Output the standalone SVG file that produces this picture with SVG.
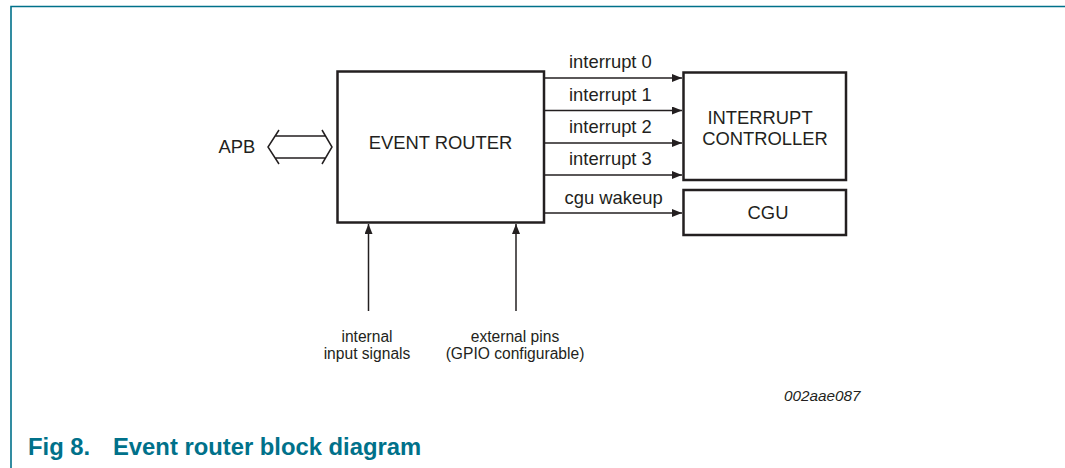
<svg xmlns="http://www.w3.org/2000/svg" width="1065" height="468" viewBox="0 0 1065 468">
<style>
.frame{fill:none;stroke:#00718a;stroke-width:1.6}
.box{fill:#ffffff;stroke:#231f20;stroke-width:2.5}
.wire{fill:none;stroke:#231f20;stroke-width:1.5}
.t{font-family:"Liberation Sans",Arial,sans-serif;font-size:18.4px;fill:#231f20}
.s{font-family:"Liberation Sans",Arial,sans-serif;font-size:15.6px;fill:#231f20}
.id{font-family:"Liberation Sans",Arial,sans-serif;font-size:15.3px;font-style:italic;fill:#231f20}
.cap{font-family:"Liberation Sans",Arial,sans-serif;font-size:23.8px;font-weight:bold;fill:#00718a}
</style>
<defs>
<marker id="ah" viewBox="0 0 10 8" refX="10" refY="4" markerWidth="10" markerHeight="8" markerUnits="userSpaceOnUse" orient="auto">
<path d="M0,0 L10,4 L0,8 Z" fill="#231f20"/>
</marker>
</defs>
<path class="frame" d="M11,468 V6.5 H1065"/>
<g id="event-router">
<rect class="box" x="337.5" y="71.5" width="206.5" height="151"/>
<text class="t" x="440.5" y="148.5" text-anchor="middle">EVENT ROUTER</text>
</g>
<g id="interrupt-controller">
<rect class="box" x="683.5" y="72.5" width="162.5" height="107.5"/>
<text class="t" x="760" y="124" text-anchor="middle">INTERRUPT</text>
<text class="t" x="765" y="145" text-anchor="middle">CONTROLLER</text>
</g>
<g id="cgu">
<rect class="box" x="683.5" y="190" width="162.5" height="45"/>
<text class="t" x="768" y="218.5" text-anchor="middle">CGU</text>
</g>
<g id="apb">
<text class="t" x="218.5" y="153">APB</text>
<path class="wire" d="M279,130 L268,147 L279,164 M322,130 L332,147 L322,164 M274.5,136 H325.5 M274.5,158 H325.5"/>
</g>
<g id="connectors">
<line class="wire" x1="544" y1="78" x2="682" y2="78" marker-end="url(#ah)"/>
<line class="wire" x1="544" y1="110.5" x2="682" y2="110.5" marker-end="url(#ah)"/>
<line class="wire" x1="544" y1="143" x2="682" y2="143" marker-end="url(#ah)"/>
<line class="wire" x1="544" y1="175" x2="682" y2="175" marker-end="url(#ah)"/>
<line class="wire" x1="544" y1="213" x2="682" y2="213" marker-end="url(#ah)"/>
<line class="wire" x1="368.5" y1="311" x2="368.5" y2="224" marker-end="url(#ah)"/>
<line class="wire" x1="516" y1="311" x2="516" y2="224" marker-end="url(#ah)"/>
<text class="t" x="569" y="68">interrupt 0</text>
<text class="t" x="569" y="100.5">interrupt 1</text>
<text class="t" x="569" y="133">interrupt 2</text>
<text class="t" x="569" y="165">interrupt 3</text>
<text class="t" x="564.5" y="204">cgu wakeup</text>
</g>
<g id="labels">
<text class="s" x="367" y="342" text-anchor="middle">internal</text>
<text class="s" x="367" y="359" text-anchor="middle">input signals</text>
<text class="s" x="515" y="342" text-anchor="middle">external pins</text>
<text class="s" x="515" y="359" text-anchor="middle">(GPIO configurable)</text>
<text class="id" x="784" y="401">002aae087</text>
</g>
<g id="caption">
<text class="cap" x="28" y="455">Fig 8.</text>
<text class="cap" x="113" y="455">Event router block diagram</text>
</g>
</svg>
